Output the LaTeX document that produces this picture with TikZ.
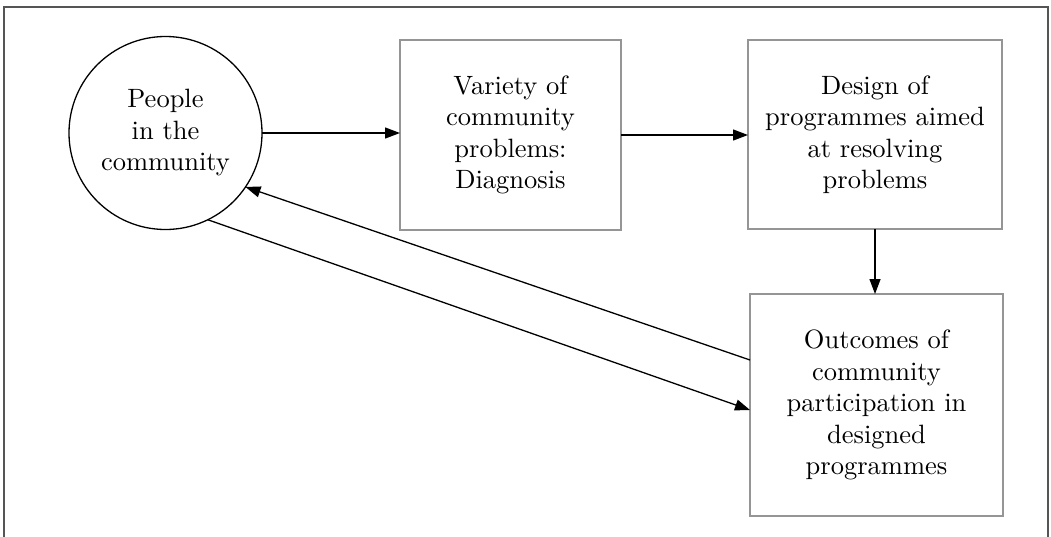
\documentclass[tikz,border=0pt]{standalone}
\usepackage{fontspec}
\setmainfont{lmroman10-regular.otf}
\usetikzlibrary{arrows.meta}
\definecolor{boxgray}{HTML}{959595}
\definecolor{framegray}{HTML}{555555}
\begin{document}
\begin{tikzpicture}[x=1pt,y=-1pt,
  txt/.style={font=\fontsize{26.5}{31.5}\selectfont, align=center},
  stepbox/.style={txt, draw=boxgray, line width=1.5pt, inner sep=0pt, outer sep=0pt},
  conn/.style={line width=1.3pt, -{Triangle[length=15pt,width=11pt]}}]
\useasboundingbox (0,0) rectangle (1051,536);
\draw[framegray, line width=2pt] (4,540) -- (4,6.5) -- (1047.5,6.5) -- (1047.5,540);
\node[txt, circle, draw, line width=1.3pt, minimum size=193pt, inner sep=0pt, outer sep=0pt] (p) at (165.5,133) {People\\in the\\community};
\node[stepbox, minimum width=221pt, minimum height=190pt] (b1) at (510.5,135) {Variety of\\community\\problems:\\Diagnosis};
\node[stepbox, minimum width=254pt, minimum height=189pt] (b2) at (875,134.5) {Design of\\programmes aimed\\at resolving\\problems};
\node[stepbox, minimum width=253pt, minimum height=222pt] (b3) at (876.5,405) {Outcomes of\\community\\participation in\\designed\\programmes};
\draw[conn] (p.0) -- (p.0 -| b1.west);
\draw[conn] (b1.east) -- (b1.east -| b2.west);
\draw[conn] (b2.south) -- (b2.south |- b3.north);
\draw[conn] ([yshift=45pt]b3.west) -- (p.-34);
\draw[conn] (p.-64.5) -- ([yshift=-5pt]b3.west);
\end{tikzpicture}
\end{document}
